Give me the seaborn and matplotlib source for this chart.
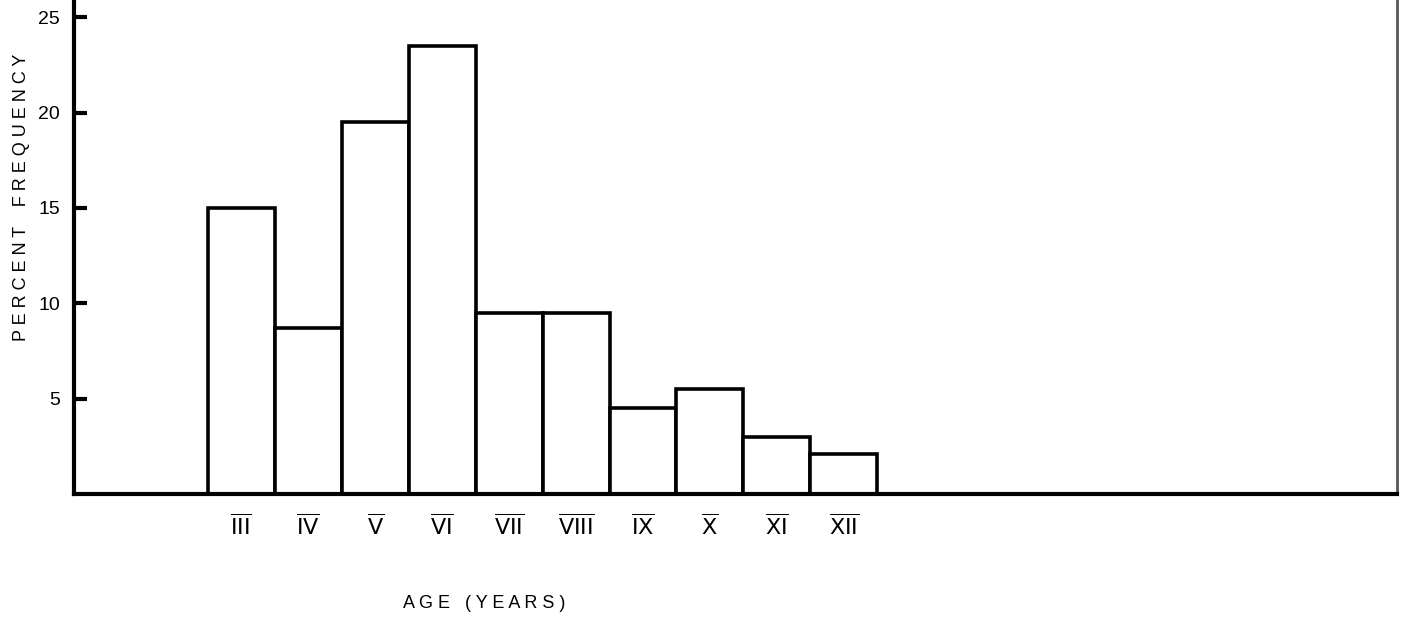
import pandas as pd
import numpy as np
import matplotlib
matplotlib.use('Agg')
import matplotlib.pyplot as plt
import seaborn as sns

# values
ages = [3, 4, 5, 6, 7, 8, 9, 10, 11, 12]
age_labels = ['III', 'IV', 'V', 'VI', 'VII', 'VIII', 'IX', 'X', 'XI', 'XII']
percent = [15.0, 8.7, 19.5, 23.5, 9.5, 9.5, 4.5, 5.5, 3.0, 2.1]
yticks = [5, 10, 15, 20, 25]

df = pd.DataFrame({'age': ages, 'percent': percent})

sns.set_style('ticks')
plt.rcParams['font.family'] = ['Liberation Sans', 'DejaVu Sans']

fig = plt.figure(figsize=(14.11, 6.2), dpi=100)
ax = fig.add_axes([0.0524, 0.2032, 0.990 - 0.0524, 1 - 0.2032])

sns.barplot(data=df, x='age', y='percent', native_scale=True, width=1,
            color='white', edgecolor='black', linewidth=2.6, ax=ax)

ax.set_xlim(0.5, 20.26)
ax.set_ylim(0, 25.9)

ax.set_xticks(ages)
ax.set_xticklabels([r'$\overline{\mathrm{' + s + '}}$' for s in age_labels],
                   fontsize=16, color='black')
ax.tick_params(axis='x', length=0, pad=15)

ax.set_yticks(yticks)
ax.set_yticklabels([str(v) for v in yticks], fontsize=14, color='black')
ax.tick_params(axis='y', direction='in', length=9, width=3, pad=10, color='black')

ax.spines['top'].set_visible(False)
for s in ['left', 'bottom']:
    ax.spines[s].set_linewidth(3)
    ax.spines[s].set_color('black')
ax.spines['right'].set_linewidth(2)
ax.spines['right'].set_color('#555555')

ax.set_xlabel('A G E   ( Y E A R S )', fontsize=13, color='black')
ax.xaxis.set_label_coords(0.31, -0.205)
ax.set_ylabel('P E R C E N T    F R E Q U E N C Y', fontsize=13, color='black')
ax.yaxis.set_label_coords(-0.033, 0.6)

fig.savefig('out.png', dpi=100)
